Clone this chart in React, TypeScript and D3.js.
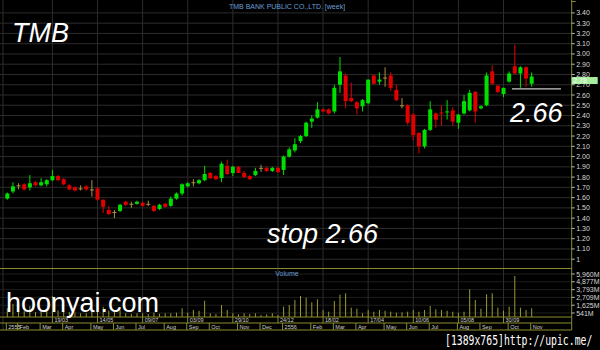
import React from "react";
import * as d3 from "d3";

// Weekly candles, first week = 23/01/2555 (2012)
const opens = [1.59,1.66,1.72,1.73,1.70,1.75,1.72,1.73,1.77,1.81,1.78,1.72,1.70,1.69,1.71,1.68,1.69,1.58,1.48,1.46,1.47,1.56,1.54,1.54,1.55,1.54,1.52,1.49,1.54,1.52,1.59,1.64,1.71,1.75,1.74,1.77,1.84,1.81,1.79,1.91,1.84,1.90,1.84,1.81,1.82,1.89,1.89,1.86,1.89,1.87,2.00,2.06,2.15,2.20,2.34,2.38,2.46,2.46,2.44,2.70,2.79,2.57,2.53,2.49,2.52,2.79,2.73,2.77,2.79,2.65,2.50,2.50,2.41,2.23,2.10,2.26,2.42,2.43,2.43,2.45,2.33,2.42,2.45,2.63,2.47,2.50,2.83,2.69,2.61,2.73,2.88,2.81,2.87,2.71];
const highs = [1.65,1.75,1.74,1.74,1.82,1.76,1.79,1.78,1.87,1.82,1.79,1.73,1.71,1.72,1.72,1.77,1.70,1.58,1.52,1.48,1.54,1.57,1.56,1.57,1.56,1.57,1.53,1.54,1.55,1.61,1.65,1.74,1.75,1.78,1.78,1.91,1.85,1.82,1.95,1.97,1.91,1.91,1.86,1.82,1.89,1.92,1.90,1.90,1.90,2.01,2.09,2.18,2.21,2.34,2.40,2.53,2.47,2.47,2.70,2.97,2.81,2.72,2.54,2.56,2.75,2.80,2.82,2.87,2.82,2.70,2.57,2.51,2.42,2.24,2.27,2.54,2.43,2.50,2.55,2.48,2.41,2.60,2.65,2.64,2.50,2.82,2.89,2.70,2.67,2.83,3.09,2.88,2.88,2.82];
const lows = [1.58,1.64,1.68,1.67,1.67,1.71,1.71,1.71,1.76,1.76,1.72,1.67,1.66,1.67,1.67,1.61,1.57,1.45,1.43,1.40,1.46,1.52,1.50,1.53,1.51,1.52,1.46,1.48,1.50,1.51,1.58,1.62,1.70,1.71,1.73,1.76,1.78,1.77,1.75,1.82,1.81,1.84,1.79,1.77,1.81,1.85,1.85,1.85,1.84,1.82,1.99,2.04,2.13,2.19,2.28,2.37,2.43,2.41,2.42,2.62,2.47,2.53,2.41,2.44,2.51,2.70,2.70,2.68,2.64,2.54,2.47,2.31,2.16,2.03,2.08,2.25,2.28,2.30,2.36,2.30,2.27,2.41,2.44,2.33,2.46,2.49,2.70,2.62,2.58,2.72,2.80,2.67,2.68,2.68];
const closes = [1.64,1.71,1.72,1.68,1.74,1.72,1.75,1.77,1.81,1.77,1.73,1.68,1.67,1.69,1.68,1.68,1.58,1.51,1.44,1.46,1.53,1.53,1.54,1.56,1.52,1.54,1.47,1.53,1.51,1.59,1.64,1.73,1.74,1.75,1.77,1.83,1.79,1.78,1.93,1.83,1.90,1.84,1.80,1.78,1.86,1.89,1.86,1.89,1.85,2.00,2.07,2.12,2.20,2.33,2.37,2.46,2.44,2.42,2.67,2.83,2.54,2.54,2.47,2.55,2.75,2.71,2.75,2.77,2.67,2.55,2.50,2.33,2.21,2.10,2.26,2.46,2.36,2.42,2.44,2.34,2.41,2.54,2.62,2.44,2.49,2.79,2.71,2.63,2.67,2.81,2.81,2.87,2.76,2.78];
// volume in millions of shares
const volumes = [1200,1800,900,800,1500,700,900,800,2900,900,800,700,600,500,500,1000,1300,1400,900,800,900,500,400,500,500,400,600,450,500,500,585,1195,585,960,860,2250,500,400,1655,960,500,360,500,400,500,265,360,500,265,1420,1655,2350,2905,2670,2030,2445,960,725,2210,3085,3280,1280,1140,500,960,725,960,860,725,585,640,725,960,725,960,1515,1055,960,860,725,585,725,3836,2350,1140,3140,3280,1280,860,1420,5684,1280,960,1195];

const priceTickValues = [1.0,1.1,1.2,1.3,1.4,1.5,1.6,1.7,1.8,1.9,2.0,2.1,2.2,2.3,2.4,2.5,2.6,2.7,2.8,2.9,3.0,3.1,3.2,3.3,3.4];
const priceTickLabels = ["1","1.10","1.20","1.30","1.40","1.50","1.60","1.70","1.80","1.90","2.00","2.10","2.20","2.30","2.40","2.50","2.60","2.70","2.80","2.90","3.00","3.10","3.20","3.30","3.40"];
const volTickValues = [541,1625,2709,3793,4877,5960];
const volTickLabels = ["541M","1,625M","2,709M","3,793M","4,877M","5,960M"];

const dateIdx = [8,16,24,32,40,48,56,64,72,80,88];
const dateLabels = ["19/03","14/05","09/07","03/09","29/10","24/12","18/02","17/04","10/06","05/08","30/09"];
const monthIdx = [0,2,6,10,15,19,23,28,32,36,41,45,49,54,58,62,67,71,75,80,84,89,93];
const monthLabels = ["2555","Feb","Mar","Apr","May","Jun","Jul","Aug","Sep","Oct","Nov","Dec","2556","Feb","Mar","Apr","May","Jun","Jul","Aug","Sep","Oct","Nov"];

const lastPrice = 2.78;
const stopPrice = 2.66;

const FONT = "'Liberation Sans', Arial, sans-serif";
const GRID = "#2c2c2c";
const OLIVE = "#8c8c2c";
const UP = "#00e000";
const DOWN = "#e00000";
const DOJI = "#a89040";

export default function App() {
  const W = 600, H = 350;
  const axisX = 571.7;
  const x = d3.scaleLinear().domain([0, opens.length - 1]).range([7.3, 531.7]);
  const y = d3.scaleLinear().domain([1.0, 3.4]).range([259.2, 12.9]);
  const yv = d3.scaleLinear().domain([0, 5960]).range([316.9, 274]);

  return (
    <svg width={W} height={H} style={{ position: "absolute", left: 0, top: 0, display: "block" }} fontFamily={FONT}>
      <rect x={0} y={0} width={W} height={H} fill="#000" />
      {/* horizontal price grid */}
      {priceTickValues.map((v, i) => (
        <line key={"hg" + i} x1={0} x2={axisX} y1={y(v)} y2={y(v)} stroke={GRID} strokeWidth={1} />
      ))}
      {/* volume grid */}
      {volTickValues.map((v, i) => (
        <line key={"vg" + i} x1={0} x2={axisX} y1={yv(v)} y2={yv(v)} stroke="#1e1e1e" strokeWidth={1} />
      ))}
      {/* vertical grid */}
      <line x1={3} x2={3} y1={0} y2={330} stroke={GRID} />
      {dateIdx.map((d, i) => (
        <line key={"vgl" + i} x1={x(d)} x2={x(d)} y1={0} y2={317} stroke={GRID} strokeWidth={1} />
      ))}
      {/* panel borders */}
      <line x1={0} x2={axisX} y1={268.5} y2={268.5} stroke={OLIVE} />
      <line x1={0} x2={axisX} y1={317} y2={317} stroke={OLIVE} />
      <line x1={0} x2={axisX} y1={323} y2={323} stroke={OLIVE} />
      <line x1={0} x2={axisX} y1={330} y2={330} stroke={OLIVE} />
      <line x1={axisX} x2={axisX} y1={0} y2={330} stroke={OLIVE} />
      <line x1={axisX} x2={axisX + 4} y1={1.5} y2={1.5} stroke={OLIVE} />

      {/* title */}
      <text x={287} y={8.5} fontSize={7} fill="#6a9fd4" textAnchor="middle">TMB BANK PUBLIC CO.,LTD. [week]</text>
      <text x={287} y={276} fontSize={7} fill="#6a9fd4" textAnchor="middle">Volume</text>

      {/* volume bars */}
      {volumes.map((v, i) => (
        <line key={"vb" + i} x1={x(i)} x2={x(i)} y1={yv(0)} y2={yv(v)} stroke="#9a9a30" strokeWidth={1} />
      ))}

      {/* candles */}
      {opens.map((o, i) => {
        const c = closes[i];
        const col = c > o ? UP : c < o ? DOWN : DOJI;
        const top = y(Math.max(o, c));
        const bot = y(Math.min(o, c));
        return (
          <g key={"c" + i}>
            <line x1={x(i)} x2={x(i)} y1={y(highs[i])} y2={y(lows[i])} stroke={col} strokeWidth={1} />
            <rect x={x(i) - 2} y={top} width={4} height={Math.max(1, bot - top)} fill={col} />
          </g>
        );
      })}

      {/* price axis labels */}
      {priceTickValues.map((v, i) => (
        <g key={"pt" + i}>
          <line x1={axisX} x2={axisX + 3} y1={y(v)} y2={y(v)} stroke="#bbb" />
          <text x={axisX + 4.5} y={y(v) + 2.5} fontSize={7} fill="#d8d8d8">{priceTickLabels[i]}</text>
        </g>
      ))}
      {/* last price badge */}
      <rect x={axisX} y={y(lastPrice) + 0.5} width={26} height={7} fill="#a8eca0" />
      <text x={axisX + 1.5} y={y(lastPrice) + 6.5} fontSize={7} fill="#f4fff4">{lastPrice.toFixed(2)}</text>

      {/* volume axis labels */}
      {volTickValues.map((v, i) => (
        <g key={"vt" + i}>
          <line x1={axisX} x2={axisX + 3} y1={yv(v)} y2={yv(v)} stroke="#bbb" />
          <text x={axisX + 4.5} y={yv(v) + 2.5} fontSize={7} fill="#d8d8d8">{volTickLabels[i]}</text>
        </g>
      ))}

      {/* date row */}
      {dateIdx.map((d, i) => (
        <g key={"dl" + i}>
          <line x1={x(d)} x2={x(d)} y1={317} y2={323} stroke={OLIVE} />
          <text x={x(d) + 2} y={322} fontSize={5.5} fill="#cfcfcf">{dateLabels[i]}</text>
        </g>
      ))}
      {/* month row */}
      {monthIdx.map((m, i) => (
        <g key={"ml" + i}>
          <line x1={x(m) - 1} x2={x(m) - 1} y1={323} y2={330} stroke={OLIVE} />
          <text x={x(m) + 1} y={329} fontSize={5.5} fill="#cfcfcf">{monthLabels[i]}</text>
        </g>
      ))}

      {/* stop line */}
      <line x1={512} x2={561} y1={y(stopPrice)} y2={y(stopPrice)} stroke="#c8c8c8" strokeWidth={1.2} />

      {/* annotations */}
      <text x={12} y={42} fontSize={27} fontStyle="italic" fill="#fff">TMB</text>
      <text x={510} y={122} fontSize={27} fontStyle="italic" fill="#fff">{stopPrice.toFixed(2)}</text>
      <text x={267} y={243} fontSize={27} fontStyle="italic" fill="#fff">{"stop " + stopPrice.toFixed(2)}</text>
      <text x={6} y={312} fontSize={27} fill="#fff">hoonyai.com</text>
      <text transform="translate(445,345) scale(1,1.4)" x={0} y={0} fontSize={9.8} fill="#fff" fontFamily="'DejaVu Sans Mono', monospace">[1389x765]http://upic.me/</text>
    </svg>
  );
}
